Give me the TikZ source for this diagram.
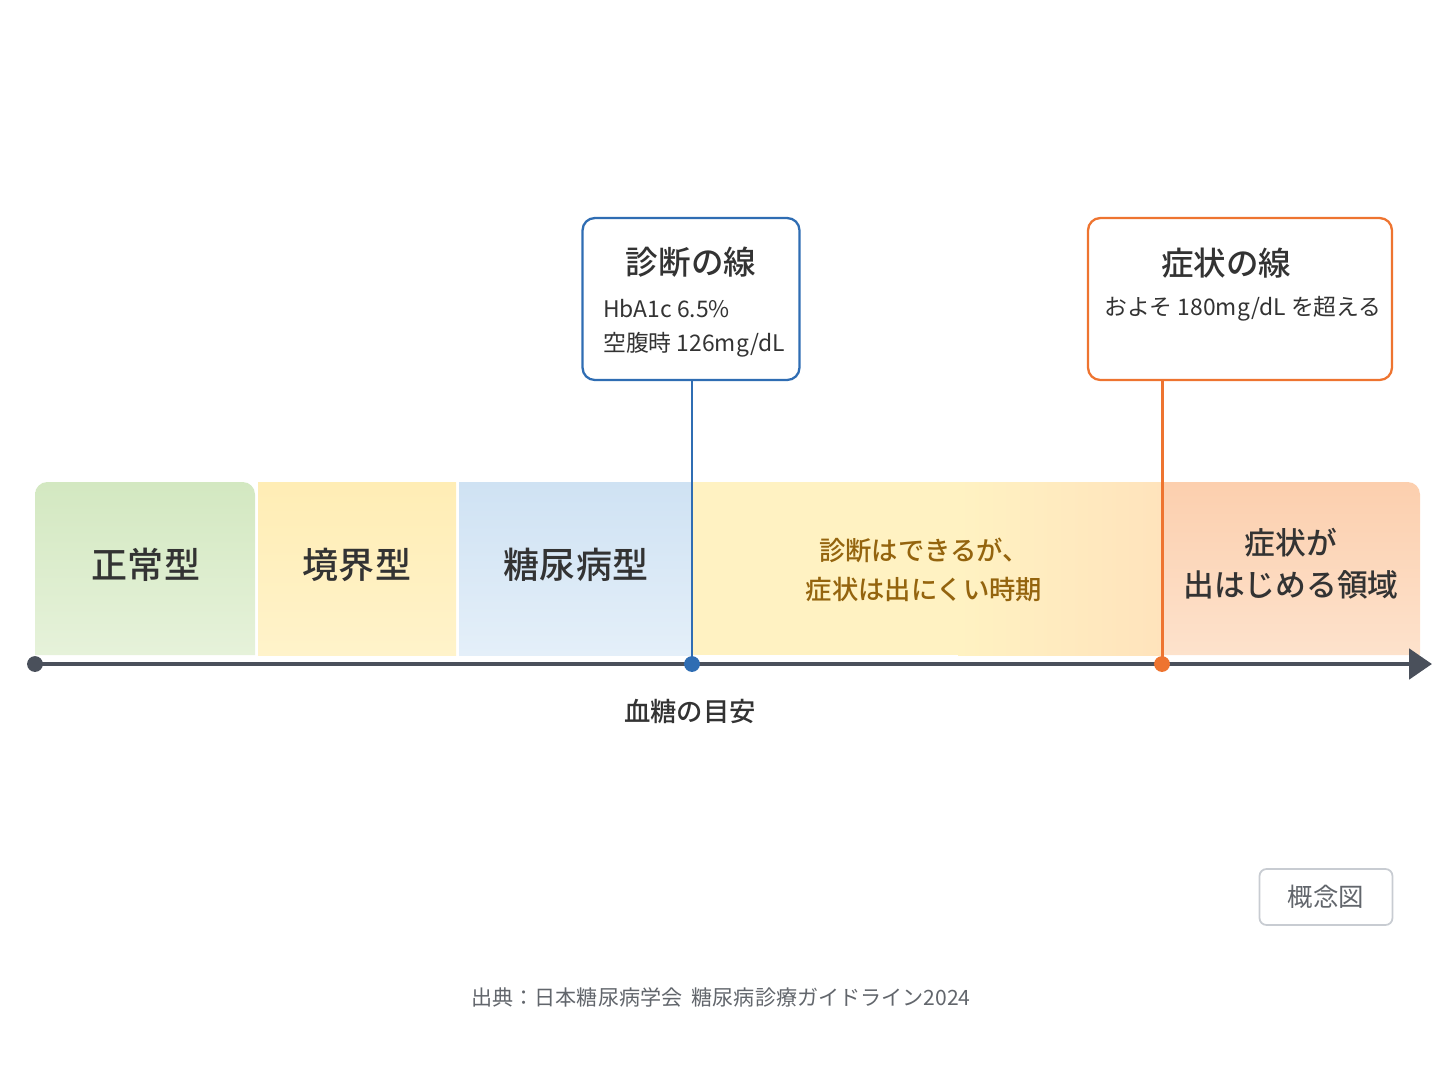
\documentclass[tikz,border=0pt]{standalone}
\usepackage{fontspec}
\setmainfont{Noto Sans CJK JP}
\newfontfamily\medfont{Noto Sans CJK JP Medium}
\usetikzlibrary{arrows.meta,positioning}
\definecolor{Ink}{HTML}{333333}
\definecolor{Muted}{HTML}{4A505B}
\definecolor{Blue}{HTML}{2F6DB3}
\definecolor{Orange}{HTML}{EE7430}
\definecolor{Brown}{HTML}{94640E}
\definecolor{Frame}{HTML}{C8CCD2}
\definecolor{Note}{HTML}{62666C}
\definecolor{GreenTop}{HTML}{D3E8C1}
\definecolor{GreenBot}{HTML}{E6F2DA}
\definecolor{YellowTop}{HTML}{FFEDB5}
\definecolor{YellowBot}{HTML}{FFF3CA}
\definecolor{BlueTop}{HTML}{CFE2F3}
\definecolor{BlueBot}{HTML}{E4EFF9}
\definecolor{MidFill}{HTML}{FFF2C2}
\definecolor{Peach}{HTML}{FFE3BC}
\definecolor{OrangeTop}{HTML}{FCCFAE}
\definecolor{OrangeBot}{HTML}{FDE2CC}

\begin{document}
\begin{tikzpicture}[
  x=0.02cm,y=-0.02cm,
  zone/.style={font=\medfont\fontsize{20.5}{25}\selectfont,text=Ink,align=center},
  zone2/.style={font=\medfont\fontsize{15}{22}\selectfont,text=Brown,align=center},
  zone3/.style={font=\medfont\fontsize{17.5}{24}\selectfont,text=Ink,align=center},
  markbox/.style={rounded corners=7pt,line width=1.3pt,fill=white,minimum height=3.24cm},
  title/.style={font=\medfont\fontsize{18.5}{22}\selectfont,text=Ink},
  body/.style={font=\fontsize{13}{19.5}\selectfont,text=Ink,align=left},
  dot/.style={circle,inner sep=0pt,minimum size=9pt},
  axisline/.style={line width=2.8pt,draw=Muted,-{Triangle[length=13pt,width=17pt]}}
]
\useasboundingbox (0,0) rectangle (1448,1086);

% bands
\shade[top color=GreenTop,bottom color=GreenBot]
  (35,655) [rounded corners=7pt] -- (35,482) -- (255,482) [sharp corners] -- (255,655) -- cycle;
\shade[top color=YellowTop,bottom color=YellowBot]
  (258,482) rectangle (456,655);
\shade[top color=BlueTop,bottom color=BlueBot]
  (459,482) rectangle (692,655);
\fill[MidFill] (692,482) rectangle (960,655);
\shade[left color=MidFill,right color=Peach] (958,482) rectangle (1163,655);
\shade[top color=OrangeTop,bottom color=OrangeBot]
  (1162,655) -- (1162,482) [rounded corners=7pt] -- (1420,482) [sharp corners] -- (1420,655) -- cycle;

\node[zone] (normal) at (146,565) {正常型};
\node[zone] (border) at (357,565) {境界型};
\node[zone] (diabetic) at (576,565) {糖尿病型};
\node[zone2] (silent) at (924,570) {診断はできるが、\\症状は出にくい時期};
\node[zone3] (symptom) at (1291,564) {症状が\\出はじめる領域};

% axis
\node[dot,fill=Muted] (startdot) at (35,664) {};
\coordinate (axisend) at (1432,664);
\draw[axisline] (startdot.center) -- (axisend);
\node[font=\medfont\fontsize{15}{18}\selectfont,text=Ink] (axislabel) at (690,711) {血糖の目安};

% marker boxes
\node[markbox,draw=Blue,minimum width=4.34cm] (diagbox) at (691,299) {};
\node[title] (diagtitle) at (691,262) {診断の線};
\node[body,anchor=west] (diagtext) at (597,328) {HbA1c 6.5\%\\空腹時 126mg/dL};
\node[markbox,draw=Orange,minimum width=6.08cm] (symbox) at (1240,299) {};
\node[title] (symtitle) at (1226,263) {症状の線};
\node[body] (symtext) at (1243,309) {およそ 180mg/dL を超える};

\node[dot,fill=Blue] (diagdot) at (692,664) {};
\node[dot,fill=Orange] (symdot) at (1162,664) {};
\draw[Blue,line width=1.7pt] (diagbox.south -| diagdot) -- (diagdot.center);
\draw[Orange,line width=1.7pt] (symbox.south -| symdot) -- (symdot.center);

% notes
\node[draw=Frame,line width=1pt,rounded corners=4pt,minimum width=2.66cm,minimum height=1.12cm,
  font=\fontsize{14.5}{17}\selectfont,text=Note] (concept) at (1326,897) {概念図};
\node[font=\fontsize{12}{14}\selectfont,text=Note] (source) at (721,997)
  {出典：日本糖尿病学会\ \ 糖尿病診療ガイドライン2024};
\end{tikzpicture}
\end{document}
